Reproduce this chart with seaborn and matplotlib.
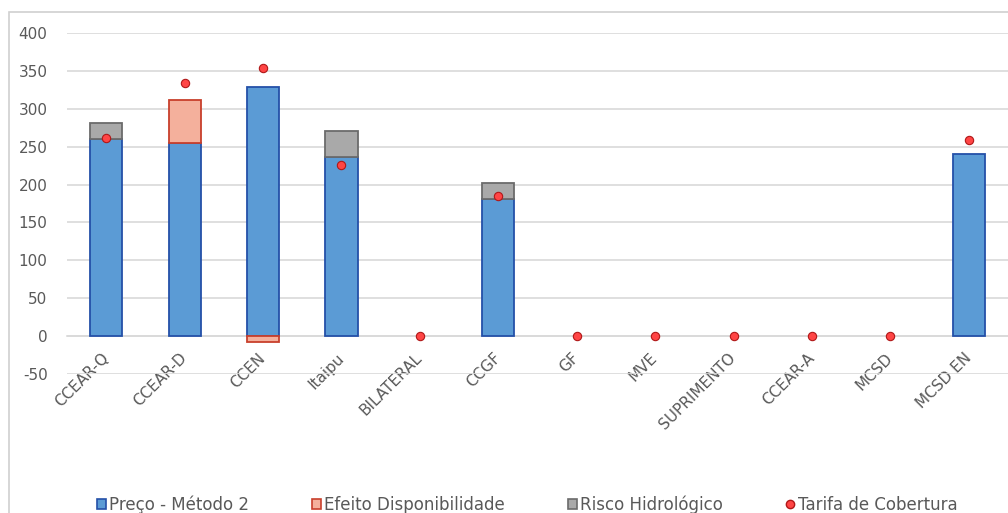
import pandas as pd
import numpy as np
import matplotlib
matplotlib.use("Agg")
import matplotlib.pyplot as plt
from matplotlib.patches import Patch, Rectangle
from matplotlib.lines import Line2D
import seaborn as sns

# Chart values
categorias = ["CCEAR-Q", "CCEAR-D", "CCEN", "Itaipu", "BILATERAL", "CCGF",
              "GF", "MVE", "SUPRIMENTO", "CCEAR-A", "MCSD", "MCSD EN"]
preco_metodo2 = [260, 255, 329, 236, 0, 181, 0, 0, 0, 0, 0, 240]
efeito_disp = [0, 56, -8, 0, 0, 0, 0, 0, 0, 0, 0, 0]
risco_hidro = [21, 0, 0, 35, 0, 21, 0, 0, 0, 0, 0, 0]
tarifa_cobertura = [261, 334, 354, 226, 0, 185, 0, 0, 0, 0, 0, 259]

df = pd.DataFrame({"cat": categorias, "preco": preco_metodo2,
                   "efeito": efeito_disp, "risco": risco_hidro,
                   "tarifa": tarifa_cobertura})
# stacking bases
df["base_efeito"] = np.where(df["efeito"] > 0, df["preco"], 0)
df["base_risco"] = df["preco"] + df["efeito"].clip(lower=0)

sns.set_theme(style="white")
plt.rcParams["font.family"] = ["DejaVu Sans"]
plt.rcParams["axes.unicode_minus"] = False

cor_azul, borda_azul = "#5b9bd5", "#2450a8"
cor_lar, borda_lar = "#f4b09c", "#c8402c"
cor_cinza, borda_cinza = "#a9a9a9", "#6b6b6b"
cor_txt = "#595959"

fig = plt.figure(figsize=(10.08, 5.13), dpi=100)
ax = fig.add_axes([67 / 1008, 1 - 374 / 513, 1 - 67 / 1008, (374 - 33) / 513])

w = 0.41
d = df[df["preco"] != 0]
sns.barplot(data=d, x="cat", y="preco", order=categorias, width=w,
            color=cor_azul, edgecolor=borda_azul, linewidth=1.3,
            saturation=1, ax=ax, zorder=3)
d = df[df["efeito"] != 0]
sns.barplot(data=d, x="cat", y="efeito", order=categorias, width=w,
            bottom=d["base_efeito"].values, color=cor_lar,
            edgecolor=borda_lar, linewidth=1.3, saturation=1, ax=ax, zorder=3)
d = df[df["risco"] != 0]
sns.barplot(data=d, x="cat", y="risco", order=categorias, width=w,
            bottom=d["base_risco"].values, color=cor_cinza,
            edgecolor=borda_cinza, linewidth=1.3, saturation=1, ax=ax, zorder=3)
sns.stripplot(data=df, x="cat", y="tarifa", order=categorias, jitter=False,
              color="#ff4545", edgecolor="#b01818", linewidth=0.8, size=6,
              ax=ax, zorder=5)

ax.set_xlim(-0.5, len(categorias) - 0.5)
ax.set_ylim(-50, 400)
ax.set_yticks(range(-50, 401, 50))
ax.yaxis.grid(True, color="#d9d9d9", linewidth=1.2)
ax.set_axisbelow(True)
ax.set_xlabel("")
ax.set_ylabel("")
for s in ["top", "right", "left"]:
    ax.spines[s].set_visible(False)
ax.spines["bottom"].set_position(("data", 0))
ax.spines["bottom"].set_color("#d9d9d9")
ax.spines["bottom"].set_linewidth(1.2)
ax.tick_params(axis="y", length=0, pad=14, labelsize=11, labelcolor=cor_txt)
ax.tick_params(axis="x", length=0, pad=14, labelsize=11, labelcolor=cor_txt)
plt.setp(ax.get_xticklabels(), rotation=45, ha="right", va="center",
         rotation_mode="anchor")

handles = [
    Patch(facecolor=cor_azul, edgecolor=borda_azul, linewidth=1.2),
    Patch(facecolor=cor_lar, edgecolor=borda_lar, linewidth=1.2),
    Patch(facecolor=cor_cinza, edgecolor=borda_cinza, linewidth=1.2),
    Line2D([], [], linestyle="none", marker="o", markersize=6,
           markerfacecolor="#ff4545", markeredgecolor="#b01818"),
]
labels = ["Preço - Método 2", "Efeito Disponibilidade", "Risco Hidrológico",
          "Tarifa de Cobertura"]
fig.legend(handles, labels, loc="center", bbox_to_anchor=(0.523, 0.017),
           ncol=4, frameon=False, fontsize=12, labelcolor=cor_txt,
           handlelength=0.55, handleheight=0.55, handletextpad=0.15,
           columnspacing=3.8, borderpad=0)

# chart area border (cut at right/bottom like the reference)
fig.patches.append(Rectangle((9 / 1008, -0.1), 1.2, 1.1 - 12 / 513,
                             transform=fig.transFigure, fill=False,
                             edgecolor="#d0d0d0", linewidth=1.2))

fig.savefig("out.png", dpi=100)
